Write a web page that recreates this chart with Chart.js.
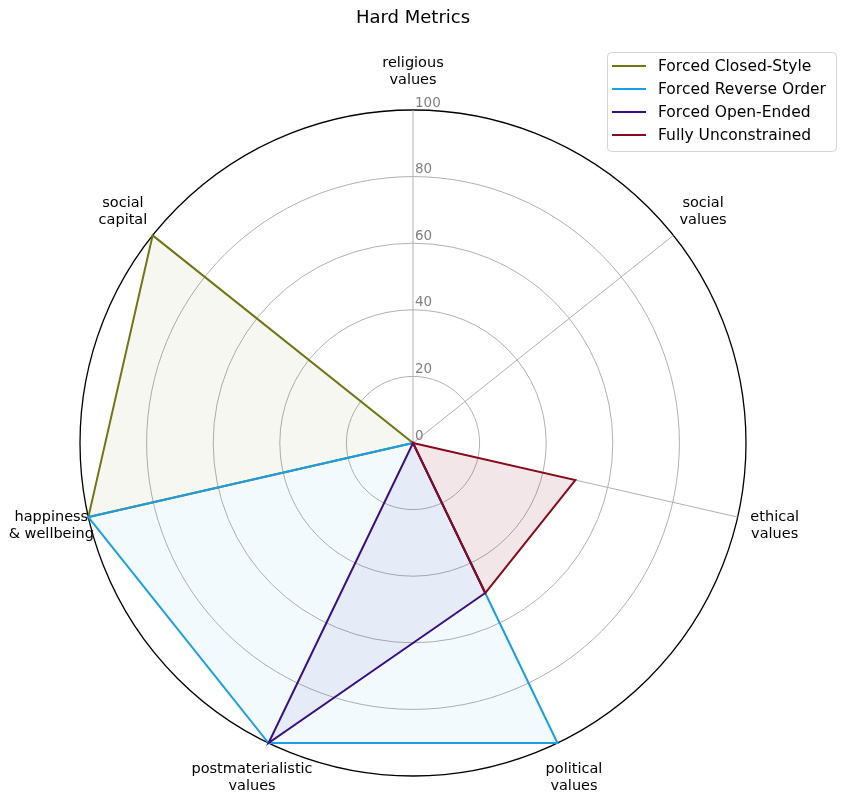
<!DOCTYPE html>
<html>
<head>
<meta charset="utf-8">
<script src="https://cdn.jsdelivr.net/npm/chart.js@4.4.1/dist/chart.umd.min.js"></script>
<style>
  html, body { margin: 0; padding: 0; background: #ffffff; }
  #wrap { width: 847px; height: 802px; position: relative; }
</style>
</head>
<body>
<div id="wrap"><canvas id="c"></canvas></div>
<script>
// ---- data ----
const categories = [
  ['religious', 'values'],
  ['social', 'values'],
  ['ethical', 'values'],
  ['political', 'values'],
  ['postmaterialistic', 'values'],
  ['happiness', '& wellbeing'],
  ['social', 'capital']
];
const seriesNames = ['Forced Closed-Style', 'Forced Reverse Order', 'Forced Open-Ended', 'Fully Unconstrained'];
const closedStyle     = [0, 0, 0, 0, 0, 100, 100];
const reverseOrder    = [0, 0, 0, 100, 100, 100, 0];
const openEnded       = [0, 0, 0, 50, 100, 0, 0];
const fullyUnconstr   = [0, 0, 50, 50, 0, 0, 0];
const tickValues = [0, 20, 40, 60, 80, 100];
const chartTitle = 'Hard Metrics';

// ---- styles ----
const lineColors = ['#737512', '#1a9ee8', '#3a0c88', '#8a0a1c'];
const fillColors = ['rgba(115,117,18,0.055)', 'rgba(26,158,232,0.055)', 'rgba(58,12,136,0.06)', 'rgba(138,10,28,0.1)'];
const FONT = "'DejaVu Sans', sans-serif";

const pointLabelPlugin = {
  id: 'pointLabelPlugin',
  afterDraw(chart) {
    const s = chart.scales.r;
    const ctx = chart.ctx;
    ctx.save();
    ctx.font = '14.5px ' + FONT;
    ctx.fillStyle = '#000';
    ctx.textAlign = 'center';
    ctx.textBaseline = 'middle';
    const lh = 17;
    categories.forEach((lines, i) => {
      const p = s.getPointPosition(i, s.drawingArea + 38);
      const y0 = p.y - (lines.length - 1) * lh / 2;
      lines.forEach((t, k) => ctx.fillText(t, p.x, y0 + k * lh));
    });
    // radial tick labels
    ctx.font = '13.5px ' + FONT;
    ctx.fillStyle = '#808080';
    ctx.textAlign = 'left';
    tickValues.forEach(v => {
      const r = s.getDistanceFromCenterForValue(v);
      ctx.fillText(String(v), s.xCenter + 2, s.yCenter - r - 7);
    });
    ctx.restore();
  }
};

const legendPlugin = {
  id: 'legendPlugin',
  afterDraw(chart) {
    const ctx = chart.ctx;
    ctx.save();
    const x0 = 607.5, y0 = 52.5, w = 229, h = 99, rad = 4;
    ctx.beginPath();
    ctx.moveTo(x0 + rad, y0);
    ctx.lineTo(x0 + w - rad, y0);
    ctx.quadraticCurveTo(x0 + w, y0, x0 + w, y0 + rad);
    ctx.lineTo(x0 + w, y0 + h - rad);
    ctx.quadraticCurveTo(x0 + w, y0 + h, x0 + w - rad, y0 + h);
    ctx.lineTo(x0 + rad, y0 + h);
    ctx.quadraticCurveTo(x0, y0 + h, x0, y0 + h - rad);
    ctx.lineTo(x0, y0 + rad);
    ctx.quadraticCurveTo(x0, y0, x0 + rad, y0);
    ctx.closePath();
    ctx.fillStyle = 'rgba(255,255,255,0.8)';
    ctx.fill();
    ctx.strokeStyle = '#d4d4d4';
    ctx.lineWidth = 1;
    ctx.stroke();
    ctx.font = '15.5px ' + FONT;
    ctx.textAlign = 'left';
    ctx.textBaseline = 'middle';
    chart.data.datasets.forEach((ds, i) => {
      const y = 66 + i * 23;
      ctx.strokeStyle = ds.borderColor;
      ctx.lineWidth = 2;
      ctx.beginPath();
      ctx.moveTo(612, y);
      ctx.lineTo(646, y);
      ctx.stroke();
      ctx.fillStyle = '#000';
      ctx.fillText(ds.label, 658, y + 1);
    });
    ctx.restore();
  }
};

const seriesData = [closedStyle, reverseOrder, openEnded, fullyUnconstr];
const datasets = seriesData.map((d, i) => ({
  label: seriesNames[i],
  data: d,
  borderColor: lineColors[i],
  backgroundColor: fillColors[i],
  borderWidth: 2,
  borderJoinStyle: 'miter',
  fill: true,
  pointRadius: 0,
  pointHoverRadius: 0,
  tension: 0,
  order: seriesData.length - i
}));

new Chart(document.getElementById('c'), {
  type: 'radar',
  data: { labels: categories.map(l => l.join(' ')), datasets },
  options: {
    responsive: true,
    maintainAspectRatio: false,
    animation: false,
    devicePixelRatio: 1,
    layout: { padding: { left: 80, right: 101, top: 0, bottom: 26 } },
    plugins: {
      legend: { display: false },
      tooltip: { enabled: false },
      title: {
        display: true,
        text: chartTitle,
        color: '#000',
        font: { family: FONT, size: 18, weight: 'normal', lineHeight: 1 },
        padding: { top: 9, bottom: 83 }
      }
    },
    scales: {
      r: {
        min: 0,
        max: 100,
        ticks: { display: false, stepSize: 20 },
        pointLabels: { display: false },
        grid: {
          circular: true,
          color: (c) => (c.tick && c.tick.value === 100) ? '#000000' : '#b0b0b0',
          lineWidth: (c) => (c.tick && c.tick.value === 100) ? 1.3 : 1
        },
        angleLines: { color: '#b0b0b0', lineWidth: 1 }
      }
    }
  },
  plugins: [pointLabelPlugin, legendPlugin]
});
</script>
</body>
</html>
